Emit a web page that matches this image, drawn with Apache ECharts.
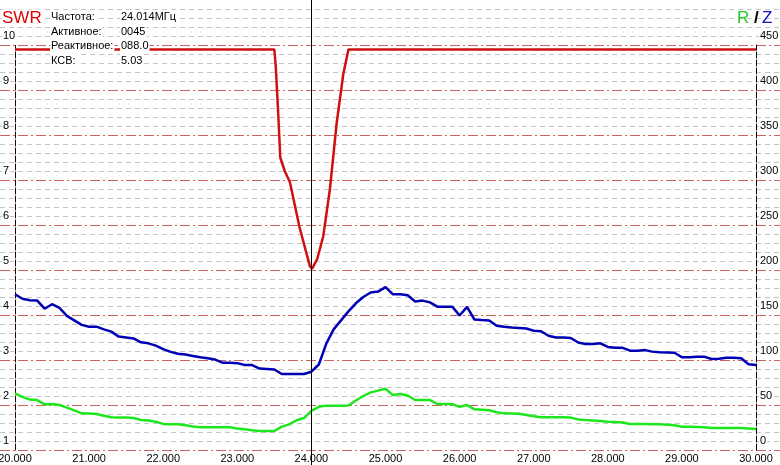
<!DOCTYPE html>
<html><head><meta charset="utf-8">
<script src="https://cdn.jsdelivr.net/npm/echarts@6/dist/echarts.min.js"></script>
<style>html,body{margin:0;padding:0;background:#fff}#c{width:780px;height:465px}</style>
</head><body><div id="c"></div>
<script>
// Frequency grid (MHz)
const freq = [20.0,20.1,20.2,20.3,20.4,20.5,20.6,20.7,20.8,20.9,
21.0,21.1,21.2,21.3,21.4,21.5,21.6,21.7,21.8,21.9,
22.0,22.1,22.2,22.3,22.4,22.5,22.6,22.7,22.8,22.9,
23.0,23.1,23.2,23.3,23.4,23.5,23.6,23.7,23.8,23.9,
24.0,24.1,24.2,24.3,24.4,24.5,24.6,24.7,24.8,24.9,
25.0,25.1,25.2,25.3,25.4,25.5,25.6,25.7,25.8,25.9,
26.0,26.1,26.2,26.3,26.4,26.5,26.6,26.7,26.8,26.9,
27.0,27.1,27.2,27.3,27.4,27.5,27.6,27.7,27.8,27.9,
28.0,28.1,28.2,28.3,28.4,28.5,28.6,28.7,28.8,28.9,
29.0,29.1,29.2,29.3,29.4,29.5,29.6,29.7,29.8,29.9,
30.0];
// Z (blue), ohms
const zValues = [173,168,166.5,166,157,162,158,149,144,139,
137,137,134,131.5,126,125,124,119.6,118.5,116,
112,109,107,106,104.5,103,102,100.5,97,97,
96.5,94.4,94.4,90.5,90,89.5,84.4,84.4,84.4,84.4,
87,95,118,134,144,154,163,170,175,176,
181,173,173,172,165,166,164,159.3,159.3,159.3,
149.5,159,145,144.4,144,138,137,136,135.5,135,
132.5,132,127,125,125,124.5,119.5,117.8,117.8,118.5,
114.5,113.7,113.5,110.4,110.4,111,109.3,108.5,108.3,108.1,
103,103,103.5,103.7,101.1,101.5,102.6,102.6,102,95.2,
94.4];
// R (green), ohms
const rValues = [63,59,56,55.5,50.7,51,50,47,44,40.7,
40.5,40,38,36.3,36,36,35.5,33.3,32.8,31.5,
29,28.7,28.5,27.5,26,25.3,25.2,25.2,25.2,25.2,
24,23,22,21.1,21.1,21.1,26,28.5,33,35.5,
43.5,48,49.3,49.3,49.3,49.5,55,60,64,66,
68,61,62.2,60.5,55.6,55.6,55.5,51.1,51.1,51,
48,50,45.2,44.8,44.2,42,40.7,40.5,40.2,39,
37.5,36.5,36.3,36.3,36.3,36,34,33.3,32.8,32.2,
31.5,31,30.5,29,28.9,28.8,28.6,28.5,28,27.5,
25.9,25.7,25.5,25.3,24.4,24.4,24.4,24.4,24.4,24,
23.3];
// SWR (red)
const swrFreq = [20.0,23.5,23.52,23.55,23.58,23.64,23.71,23.84,23.98,24.01,24.08,24.16,24.25,24.34,24.43,24.5,30.0];
const swrValues = [9.9,9.9,9.5,8.55,7.5,7.2,6.95,5.95,5.08,5.03,5.25,5.75,6.8,8.25,9.35,9.9,9.9];
// Readout
const cursorFreq = 24.014;
const infoLabels = ['Частота:','Активное:','Реактивное:','КСВ:'];
const infoValues = ['24.014МГц','0045','088.0','5.03'];

const FONT = '"Liberation Sans", Arial, sans-serif';
const chart = echarts.init(document.getElementById('c'), null, {renderer:'canvas'});

const gridLineY = {
  type:'value', min:1, max:10, interval:1,
  axisLine:{show:false}, axisTick:{show:false}, axisLabel:{show:false},
  splitLine:{show:true, lineStyle:{color:'#c86464', width:1, type:[10,3,2,3]}},
  minorTick:{show:false, splitNumber:5},
  minorSplitLine:{show:true, lineStyle:{color:'#c4c4c4', width:1, type:[5,4]}}
};
const lblCommon = {color:'#000', fontSize:11, fontFamily:FONT, verticalAlign:'bottom', lineHeight:13,
  backgroundColor:'#fff', padding:[0,1,3,1]};

const option = {
  animation:false,
  backgroundColor:'#fff',
  grid:[
    {left:0, right:0, top:45, bottom:15, outerBoundsMode:'none', containLabel:false},
    {left:0, right:0, top:0, height:45, outerBoundsMode:'none', containLabel:false},
    {left:15, right:24, top:45, bottom:15, outerBoundsMode:'none', containLabel:false}
  ],
  xAxis:[
    {gridIndex:0, type:'value', min:0, max:1, show:false},
    {gridIndex:1, type:'value', min:0, max:1, show:false},
    {gridIndex:2, type:'value', min:20, max:30, interval:1,
     axisLine:{show:false}, axisTick:{show:false}, splitLine:{show:false},
     axisLabel:{formatter:v=>v.toFixed(3), margin:3, color:'#000', fontSize:11, fontFamily:FONT}}
  ],
  yAxis:[
    Object.assign({gridIndex:0}, gridLineY),
    Object.assign({}, gridLineY, {gridIndex:1, min:10, max:11, splitLine:{show:false}}),
    {gridIndex:2, type:'value', min:1, max:10, interval:1, position:'left',
     axisLine:{show:true, lineStyle:{color:'#200', width:1, type:[6,2]}},
     axisTick:{show:false}, splitLine:{show:false},
     axisLabel:Object.assign({align:'left', margin:13}, lblCommon)},
    {gridIndex:2, type:'value', min:0, max:450, interval:50, position:'right',
     axisLine:{show:true, lineStyle:{color:'#000', width:1, type:[6,2]}},
     axisTick:{show:false}, splitLine:{show:false},
     axisLabel:Object.assign({align:'left', margin:3}, lblCommon)}
  ],
  series:[
    {name:'R', type:'line', xAxisIndex:2, yAxisIndex:3, symbol:'none',
     lineStyle:{color:'#1ee61e', width:2.5}, data:freq.map((f,i)=>[f,rValues[i]])},
    {name:'Z', type:'line', xAxisIndex:2, yAxisIndex:3, symbol:'none',
     lineStyle:{color:'#0000b4', width:2.5}, data:freq.map((f,i)=>[f,zValues[i]])},
    {name:'SWR', type:'line', xAxisIndex:2, yAxisIndex:2, symbol:'none',
     lineStyle:{color:'#d01010', width:2.5}, data:swrFreq.map((f,i)=>[f,swrValues[i]])}
  ]
};
chart.setOption(option);

const px = Math.round(chart.convertToPixel({xAxisIndex:2}, cursorFreq)) - 0.5;
const graphics = [
  {type:'line', z:50, shape:{x1:px, y1:0, x2:px, y2:465}, style:{stroke:'#000', lineWidth:1}},
  {type:'text', z:60, x:2, y:18, style:{text:'SWR', fill:'#e00000', font:'17px '+FONT, verticalAlign:'middle', backgroundColor:'#fff'}},
  {type:'text', z:60, x:737, y:18, style:{text:'R', fill:'#22cc22', font:'17px '+FONT, verticalAlign:'middle'}},
  {type:'text', z:60, x:754, y:18, style:{text:'/', fill:'#000', font:'bold 17px '+FONT, verticalAlign:'middle'}},
  {type:'text', z:60, x:762, y:18, style:{text:'Z', fill:'#1010c0', font:'17px '+FONT, verticalAlign:'middle'}}
];
infoLabels.forEach((t,i)=>{
  graphics.push({type:'text', z:60, x:50, y:17+i*14.5, style:{text:t, fill:'#000', font:'11px '+FONT, verticalAlign:'middle', backgroundColor:'#fff', padding:[1,1]}});
  graphics.push({type:'text', z:60, x:120, y:17+i*14.5, style:{text:infoValues[i], fill:'#000', font:'11px '+FONT, verticalAlign:'middle', backgroundColor:'#fff', padding:[1,1]}});
});
chart.setOption({graphic:graphics});
</script>
</body></html>
